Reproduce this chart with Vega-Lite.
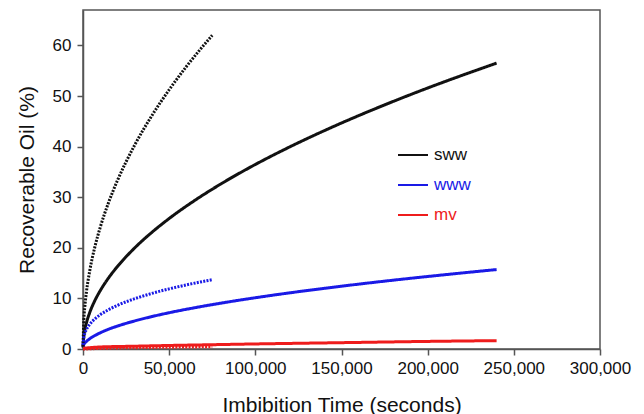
{
  "$schema": "https://vega.github.io/schema/vega-lite/v6.json",
  "width": 517,
  "height": 339,
  "autosize": {"type": "none"},
  "padding": {"left": 83, "top": 10, "right": 44, "bottom": 65},
  "background": "white",
  "config": {
    "font": "Liberation Sans",
    "view": {"stroke": "#555", "strokeWidth": 1.5},
    "axis": {
      "grid": false,
      "domainColor": "#555",
      "domainWidth": 1.5,
      "tickColor": "#555",
      "tickWidth": 1.5,
      "tickSize": 6,
      "labelColor": "#111",
      "labelFontSize": 17,
      "titleColor": "#111",
      "titleFontSize": 21,
      "titleFontWeight": "normal",
      "labelFlush": false
    }
  },
  "data": {
    "values": [
      {"t": 0, "y": 0.3, "fluid": "sww", "kind": "solid"},
      {"t": 500, "y": 2.58, "fluid": "sww", "kind": "solid"},
      {"t": 1000, "y": 3.65, "fluid": "sww", "kind": "solid"},
      {"t": 2000, "y": 5.16, "fluid": "sww", "kind": "solid"},
      {"t": 4000, "y": 7.29, "fluid": "sww", "kind": "solid"},
      {"t": 7000, "y": 9.65, "fluid": "sww", "kind": "solid"},
      {"t": 10000, "y": 11.53, "fluid": "sww", "kind": "solid"},
      {"t": 15000, "y": 14.13, "fluid": "sww", "kind": "solid"},
      {"t": 20000, "y": 16.31, "fluid": "sww", "kind": "solid"},
      {"t": 30000, "y": 19.98, "fluid": "sww", "kind": "solid"},
      {"t": 40000, "y": 23.07, "fluid": "sww", "kind": "solid"},
      {"t": 50000, "y": 25.79, "fluid": "sww", "kind": "solid"},
      {"t": 65000, "y": 29.4, "fluid": "sww", "kind": "solid"},
      {"t": 80000, "y": 32.62, "fluid": "sww", "kind": "solid"},
      {"t": 100000, "y": 36.47, "fluid": "sww", "kind": "solid"},
      {"t": 120000, "y": 39.95, "fluid": "sww", "kind": "solid"},
      {"t": 140000, "y": 43.15, "fluid": "sww", "kind": "solid"},
      {"t": 160000, "y": 46.13, "fluid": "sww", "kind": "solid"},
      {"t": 180000, "y": 48.93, "fluid": "sww", "kind": "solid"},
      {"t": 200000, "y": 51.58, "fluid": "sww", "kind": "solid"},
      {"t": 220000, "y": 54.09, "fluid": "sww", "kind": "solid"},
      {"t": 240000, "y": 56.5, "fluid": "sww", "kind": "solid"},

      {"t": 0, "y": 0.5, "fluid": "www", "kind": "solid"},
      {"t": 500, "y": 0.9, "fluid": "www", "kind": "solid"},
      {"t": 1000, "y": 1.15, "fluid": "www", "kind": "solid"},
      {"t": 2000, "y": 1.5, "fluid": "www", "kind": "solid"},
      {"t": 4000, "y": 2.05, "fluid": "www", "kind": "solid"},
      {"t": 7000, "y": 2.68, "fluid": "www", "kind": "solid"},
      {"t": 10000, "y": 3.2, "fluid": "www", "kind": "solid"},
      {"t": 15000, "y": 3.93, "fluid": "www", "kind": "solid"},
      {"t": 20000, "y": 4.53, "fluid": "www", "kind": "solid"},
      {"t": 30000, "y": 5.55, "fluid": "www", "kind": "solid"},
      {"t": 40000, "y": 6.41, "fluid": "www", "kind": "solid"},
      {"t": 50000, "y": 7.17, "fluid": "www", "kind": "solid"},
      {"t": 65000, "y": 8.17, "fluid": "www", "kind": "solid"},
      {"t": 80000, "y": 9.06, "fluid": "www", "kind": "solid"},
      {"t": 100000, "y": 10.13, "fluid": "www", "kind": "solid"},
      {"t": 120000, "y": 11.1, "fluid": "www", "kind": "solid"},
      {"t": 140000, "y": 11.99, "fluid": "www", "kind": "solid"},
      {"t": 160000, "y": 12.82, "fluid": "www", "kind": "solid"},
      {"t": 180000, "y": 13.6, "fluid": "www", "kind": "solid"},
      {"t": 200000, "y": 14.33, "fluid": "www", "kind": "solid"},
      {"t": 220000, "y": 15.03, "fluid": "www", "kind": "solid"},
      {"t": 240000, "y": 15.7, "fluid": "www", "kind": "solid"},

      {"t": 0, "y": 0.15, "fluid": "mv", "kind": "solid"},
      {"t": 10000, "y": 0.4, "fluid": "mv", "kind": "solid"},
      {"t": 30000, "y": 0.55, "fluid": "mv", "kind": "solid"},
      {"t": 50000, "y": 0.7, "fluid": "mv", "kind": "solid"},
      {"t": 75000, "y": 0.85, "fluid": "mv", "kind": "solid"},
      {"t": 100000, "y": 1.0, "fluid": "mv", "kind": "solid"},
      {"t": 150000, "y": 1.25, "fluid": "mv", "kind": "solid"},
      {"t": 200000, "y": 1.5, "fluid": "mv", "kind": "solid"},
      {"t": 240000, "y": 1.65, "fluid": "mv", "kind": "solid"},

      {"t": 0, "y": 0.5, "fluid": "sww", "kind": "dotted"},
      {"t": 500, "y": 5.89, "fluid": "sww", "kind": "dotted"},
      {"t": 1000, "y": 8.15, "fluid": "sww", "kind": "dotted"},
      {"t": 2000, "y": 11.29, "fluid": "sww", "kind": "dotted"},
      {"t": 4000, "y": 15.64, "fluid": "sww", "kind": "dotted"},
      {"t": 7000, "y": 20.34, "fluid": "sww", "kind": "dotted"},
      {"t": 10000, "y": 24.05, "fluid": "sww", "kind": "dotted"},
      {"t": 15000, "y": 29.1, "fluid": "sww", "kind": "dotted"},
      {"t": 20000, "y": 33.31, "fluid": "sww", "kind": "dotted"},
      {"t": 30000, "y": 40.31, "fluid": "sww", "kind": "dotted"},
      {"t": 40000, "y": 46.14, "fluid": "sww", "kind": "dotted"},
      {"t": 50000, "y": 51.24, "fluid": "sww", "kind": "dotted"},
      {"t": 60000, "y": 55.83, "fluid": "sww", "kind": "dotted"},
      {"t": 75000, "y": 62.0, "fluid": "sww", "kind": "dotted"},

      {"t": 0, "y": 0.8, "fluid": "www", "kind": "dotted"},
      {"t": 500, "y": 2.37, "fluid": "www", "kind": "dotted"},
      {"t": 1000, "y": 3.02, "fluid": "www", "kind": "dotted"},
      {"t": 2000, "y": 3.85, "fluid": "www", "kind": "dotted"},
      {"t": 4000, "y": 4.91, "fluid": "www", "kind": "dotted"},
      {"t": 7000, "y": 5.97, "fluid": "www", "kind": "dotted"},
      {"t": 10000, "y": 6.77, "fluid": "www", "kind": "dotted"},
      {"t": 15000, "y": 7.8, "fluid": "www", "kind": "dotted"},
      {"t": 20000, "y": 8.63, "fluid": "www", "kind": "dotted"},
      {"t": 30000, "y": 9.94, "fluid": "www", "kind": "dotted"},
      {"t": 40000, "y": 10.99, "fluid": "www", "kind": "dotted"},
      {"t": 50000, "y": 11.89, "fluid": "www", "kind": "dotted"},
      {"t": 60000, "y": 12.67, "fluid": "www", "kind": "dotted"},
      {"t": 75000, "y": 13.7, "fluid": "www", "kind": "dotted"},

      {"t": 0, "y": 0.0, "fluid": "mv", "kind": "dotted"},
      {"t": 20000, "y": 0.2, "fluid": "mv", "kind": "dotted"},
      {"t": 45000, "y": 0.33, "fluid": "mv", "kind": "dotted"},
      {"t": 75000, "y": 0.45, "fluid": "mv", "kind": "dotted"}
    ]
  },
  "mark": {"type": "line", "strokeWidth": 3, "clip": false, "interpolate": "monotone"},
  "encoding": {
    "x": {
      "field": "t",
      "type": "quantitative",
      "scale": {"domain": [0, 300000], "nice": false},
      "axis": {
        "title": "Imbibition Time (seconds)",
        "values": [0, 50000, 100000, 150000, 200000, 250000, 300000],
        "format": ",d",
        "labelPadding": 5,
        "titlePadding": 18
      }
    },
    "y": {
      "field": "y",
      "type": "quantitative",
      "scale": {"domain": [0, 67], "nice": false},
      "axis": {
        "title": "Recoverable Oil (%)",
        "values": [0, 10, 20, 30, 40, 50, 60],
        "labelPadding": 6,
        "titlePadding": 15
      }
    },
    "color": {
      "field": "fluid",
      "type": "nominal",
      "scale": {"domain": ["sww", "www", "mv"], "range": ["#111111", "#1a1ae6", "#ee1c1c"]},
      "legend": {
        "orient": "none",
        "legendX": 314,
        "legendY": 129,
        "title": null,
        "symbolType": "stroke",
        "symbolSize": 900,
        "symbolStrokeWidth": 2,
        "labelFontSize": 17,
        "labelOffset": 5,
        "rowPadding": 6,
        "encode": {
          "labels": {"update": {"fill": {"scale": "color", "field": "value"}}}
        }
      }
    },
    "strokeDash": {
      "field": "kind",
      "type": "nominal",
      "scale": {"domain": ["solid", "dotted"], "range": [[1, 0], [2, 1.3]]},
      "legend": null
    }
  }
}
